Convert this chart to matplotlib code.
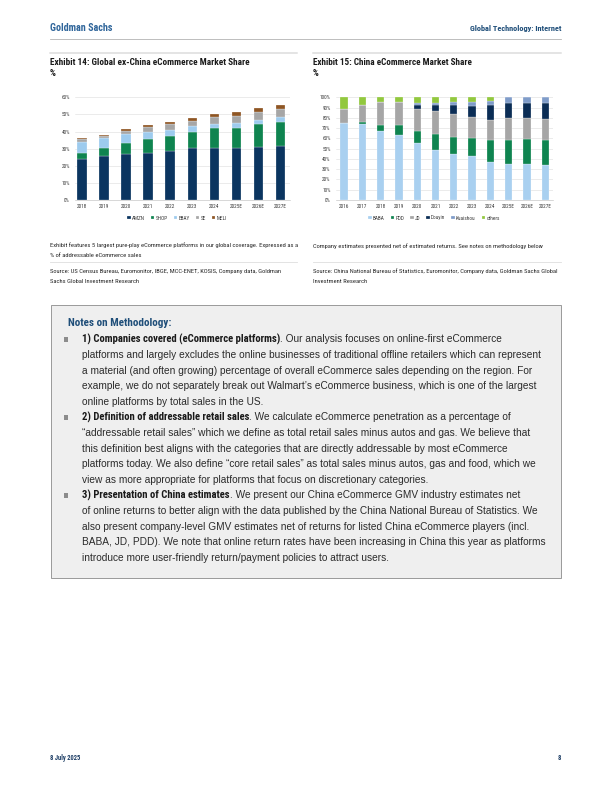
import matplotlib
matplotlib.use("Agg")
import matplotlib.pyplot as plt
from matplotlib import font_manager
from matplotlib.patches import Rectangle
import numpy as np

# ---------------- data ----------------
years1 = ['2018', '2019', '2020', '2021', '2022', '2023', '2024', '2025E', '2026E', '2027E']
AMZN = [24.2, 25.9, 27.1, 27.7, 28.8, 30.2, 30.6, 30.2, 30.8, 31.4]
SHOP = [3.5, 4.7, 6.4, 7.8, 8.6, 9.6, 11.3, 12.1, 13.4, 14.4]
EBAY = [6.4, 5.5, 4.9, 4.3, 3.5, 3.5, 2.5, 2.7, 2.6, 2.7]
SE = [1.4, 1.1, 2.0, 2.7, 3.3, 2.9, 3.9, 4.3, 4.7, 4.7]
MELI = [0.8, 1.0, 1.3, 1.2, 1.4, 1.6, 1.8, 2.0, 2.1, 2.4]
series1 = ['AMZN', 'SHOP', 'EBAY', 'SE', 'MELI']
values1 = [AMZN, SHOP, EBAY, SE, MELI]
colors1 = ['#0B3560', '#0F8450', '#9DCBEE', '#A6A6A6', '#8E5523']
yticks1 = [0, 10, 20, 30, 40, 50, 60]

years2 = ['2016', '2017', '2018', '2019', '2020', '2021', '2022', '2023', '2024', '2025E', '2026E', '2027E']
BABA = [75.0, 74.4, 67.2, 63.3, 55.2, 49.0, 45.1, 42.5, 36.7, 35.1, 35.1, 34.4]
PDD = [0.0, 1.9, 6.2, 9.8, 12.3, 15.6, 16.6, 18.2, 22.1, 23.7, 24.3, 24.4]
JD = [14.0, 15.9, 22.4, 22.0, 20.8, 22.1, 21.7, 19.8, 19.1, 20.7, 20.1, 20.1]
Douyin = [0.0, 0.0, 0.0, 0.0, 3.9, 5.5, 9.5, 11.4, 14.3, 15.3, 15.3, 15.9]
Kuaishou = [0.0, 0.0, 0.0, 0.0, 2.0, 2.6, 2.9, 3.9, 4.6, 5.2, 5.2, 5.2]
others = [11.0, 7.8, 4.2, 4.9, 5.8, 5.2, 4.2, 4.2, 3.2, 0.0, 0.0, 0.0]
series2 = ['BABA', 'PDD', 'JD', 'Douyin', 'Kuaishou', 'others']
values2 = [BABA, PDD, JD, Douyin, Kuaishou, others]
colors2 = ['#A9D0F0', '#0F8450', '#A6A6A6', '#0B2D55', '#7F9CC9', '#92C83E']
yticks2 = [0, 10, 20, 30, 40, 50, 60, 70, 80, 90, 100]

# ---------------- fonts ----------------
fl = font_manager.fontManager.ttflist


def pick(cands, need_bold=False):
    for c in cands:
        ws = [f.weight for f in fl if f.name == c]
        if not ws:
            continue
        if need_bold and not any((w if isinstance(w, int) else 700 if 'bold' in str(w) else 400) >= 600 for w in ws):
            continue
        return c
    return 'DejaVu Sans'


SANS = pick(['Liberation Sans', 'Arimo', 'DejaVu Sans'])
NARROW_B = pick(['Liberation Sans Narrow', 'Roboto Condensed', 'Barlow Semi Condensed',
                 'Asap Condensed', 'Encode Sans Condensed'], need_bold=True)
NARROW = pick(['Liberation Sans Narrow', 'Roboto Condensed', 'Archivo Narrow', 'Barlow Semi Condensed'])
plt.rcParams['font.family'] = [SANS, 'DejaVu Sans']

W, H = 612, 792
fig = plt.figure(figsize=(W / 72, H / 72), dpi=72)
fig.patch.set_facecolor('white')
renderer = fig.canvas.get_renderer()


def fx(x):
    return x / W


def fy(y):
    return 1 - y / H


def txt(x, y, s, **kw):
    kw.setdefault('va', 'center')
    return fig.text(fx(x), fy(y), s, **kw)


def fit(t, width):
    """scale a text's size so its rendered width matches the reference width (px)."""
    w = t.get_window_extent(renderer).width
    t.set_fontsize(t.get_fontsize() * width / w)
    return t


def hline(x0, x1, y, color, lw):
    fig.add_artist(plt.Line2D([fx(x0), fx(x1)], [fy(y), fy(y)], color=color, lw=lw,
                              transform=fig.transFigure))


# ---------------- header ----------------
fit(txt(50, 28, 'Goldman Sachs', family=[NARROW_B, SANS], weight='bold', size=9.5, color='#2F659A'), 63)
fit(txt(562, 29, 'Global Technology: Internet', family=[NARROW_B, SANS], weight='bold', size=7,
        color='#1F4E79', ha='right'), 92)
hline(50, 561, 38.5, '#B0B0B0', 0.8)

# exhibit titles
for x0, x1, title, wt in [(50, 297, 'Exhibit 14: Global ex-China eCommerce Market Share', 197),
                          (313, 561, 'Exhibit 15: China eCommerce Market Share', 158)]:
    hline(x0, x1, 53, '#DCDCDC', 1.5)
    t = fit(txt(x0, 62.5, title, family=[NARROW_B, SANS], weight='bold', size=8, color='#1A1A1A'), wt)
    txt(x0, 73.5, '%', family=[NARROW_B, SANS], weight='bold', size=t.get_fontsize(), color='#1A1A1A')


# ---------------- charts ----------------
def stacked(ax_left, ax_right, c0, step, ylo, yhi, ymax, years, values, colors, names_, yticks,
            width, legend_x, legend_w):
    i_left = (ax_left - c0) / step
    i_right = (ax_right - c0) / step
    ax = fig.add_axes([fx(ax_left), fy(ylo), (ax_right - ax_left) / W, (ylo - yhi) / H])
    x = np.arange(len(years))
    bottom = np.zeros(len(years))
    for vals, col, nm in zip(values, colors, names_):
        v = np.array(vals)
        ax.bar(x, v, width, bottom=bottom, color=col, label=nm, edgecolor='white', linewidth=0.25,
               zorder=3)
        bottom += v
    ax.set_xlim(i_left, i_right)
    ax.set_ylim(0, ymax)
    ax.set_yticks(yticks)
    ax.set_yticklabels([f'{t}%' for t in yticks])
    ax.set_xticks(x)
    ax.set_xticklabels(years)
    ax.tick_params(length=0, labelsize=5.3, colors='#3A3A3A', pad=5)
    ax.tick_params(axis='x', pad=4)
    for lab in ax.get_xticklabels() + ax.get_yticklabels():
        lab.set_family([NARROW, SANS])
    ax.grid(axis='y', color='#D9D9D9', lw=0.5, zorder=0)
    for s in ['top', 'right', 'left']:
        ax.spines[s].set_visible(False)
    ax.spines['bottom'].set_color('#BFBFBF')
    ax.spines['bottom'].set_linewidth(0.6)
    ax.set_facecolor('none')
    leg = fig.legend(*ax.get_legend_handles_labels(), loc='center', ncol=len(names_),
                     bbox_to_anchor=(fx(legend_x), fy(218)), frameon=False,
                     prop={'family': [NARROW, SANS], 'size': 5.3},
                     handlelength=0.65, handleheight=0.65, handletextpad=0.25, columnspacing=1.1,
                     borderaxespad=0)
    for t in leg.get_texts():
        t.set_color('#3A3A3A')
    return ax


stacked(75, 290, 82, 22.06, 200, 97.3, 60, years1, values1, colors1, series1, yticks1, 0.43, 177, 102)
stacked(335.5, 553, 344, 18.3, 200, 97.3, 100, years2, values2, colors2, series2, yticks2, 0.4, 434, 122)

# ---------------- footnotes ----------------
FN = dict(family=[NARROW, SANS], size=5.6, color='#262626')
t = fit(txt(50, 245.5, 'Exhibit features 5 largest pure-play eCommerce platforms in our global coverage. Expressed as a', **FN), 247)
FN['size'] = t.get_fontsize()
txt(50, 255.5, '% of addressable eCommerce sales', **FN)
hline(50, 297, 262, '#DCDCDC', 0.8)
txt(50, 271.5, 'Source: US Census Bureau, Euromonitor, IBGE, MCC-ENET, KOSIS, Company data, Goldman', **FN)
txt(50, 281.5, 'Sachs Global Investment Research', **FN)

txt(313, 246, 'Company estimates presented net of estimated returns. See notes on methodology below', **FN)
hline(313, 561, 262, '#DCDCDC', 0.8)
txt(313, 271.5, 'Source: China National Bureau of Statistics, Euromonitor, Company data, Goldman Sachs Global', **FN)
txt(313, 281.5, 'Investment Research', **FN)

# ---------------- notes box ----------------
fig.add_artist(Rectangle((fx(51), fy(578)), (561 - 51) / W, (578 - 305) / H,
                         transform=fig.transFigure, facecolor='#EFEFEF', edgecolor='#9C9C9C',
                         lw=1.0, zorder=0))
fit(txt(68, 323, 'Notes on Methodology:', family=[NARROW_B, SANS], weight='bold', size=9.5,
        color='#1F4E79'), 104)

bullets = [
    ('1) Companies covered (eCommerce platforms)',
     ['. Our analysis focuses on online-first eCommerce',
      'platforms and largely excludes the online businesses of traditional offline retailers which can represent',
      'a material (and often growing) percentage of overall eCommerce sales depending on the region. For',
      'example, we do not separately break out Walmart\u2019s eCommerce business, which is one of the largest',
      'online platforms by total sales in the US.']),
    ('2) Definition of addressable retail sales',
     ['. We calculate eCommerce penetration as a percentage of',
      '\u201caddressable retail sales\u201d which we define as total retail sales minus autos and gas. We believe that',
      'this definition best aligns with the categories that are directly addressable by most eCommerce',
      'platforms today. We also define \u201ccore retail sales\u201d as total sales minus autos, gas and food, which we',
      'view as more appropriate for platforms that focus on discretionary categories.']),
    ('3) Presentation of China estimates',
     ['. We present our China eCommerce GMV industry estimates net',
      'of online returns to better align with the data published by the China National Bureau of Statistics. We',
      'also present company-level GMV estimates net of returns for listed China eCommerce players (incl.',
      'BABA, JD, PDD). We note that online return rates have been increasing in China this year as platforms',
      'introduce more user-friendly return/payment policies to attract users.']),
]

# fit body font size to the reference line width (82 -> 538 px)
probe = fit(txt(82, 0, bullets[0][1][1], family=SANS, size=9), 456)
BODY = probe.get_fontsize()
probe.remove()
BOLD = BODY * 1.05
TXT_COL = '#2B2B2B'

y = 339.5
step = 15.6
for bold, lines in bullets:
    fig.add_artist(Rectangle((fx(63.5), fy(y + 2.2)), 4.4 / W, 4.4 / H, transform=fig.transFigure,
                             facecolor='#8C8C8C', edgecolor='none'))
    tb = txt(82, y, bold, family=[NARROW_B, SANS], weight='bold', size=BOLD, color='#1A1A1A')
    x1 = tb.get_window_extent(renderer).x1
    txt(x1, y, lines[0], family=SANS, size=BODY, color=TXT_COL)
    for k, ln in enumerate(lines[1:], start=1):
        txt(82, y + k * step, ln, family=SANS, size=BODY, color=TXT_COL)
    y += 5 * step

# ---------------- footer ----------------
txt(50, 758, '8 July 2025', family=[NARROW_B, SANS], weight='bold', size=6.5, color='#1F3F66')
txt(561, 758, '8', family=[NARROW_B, SANS], weight='bold', size=6.5, color='#1F3F66', ha='right')

fig.savefig('out.png', dpi=72, facecolor='white')
